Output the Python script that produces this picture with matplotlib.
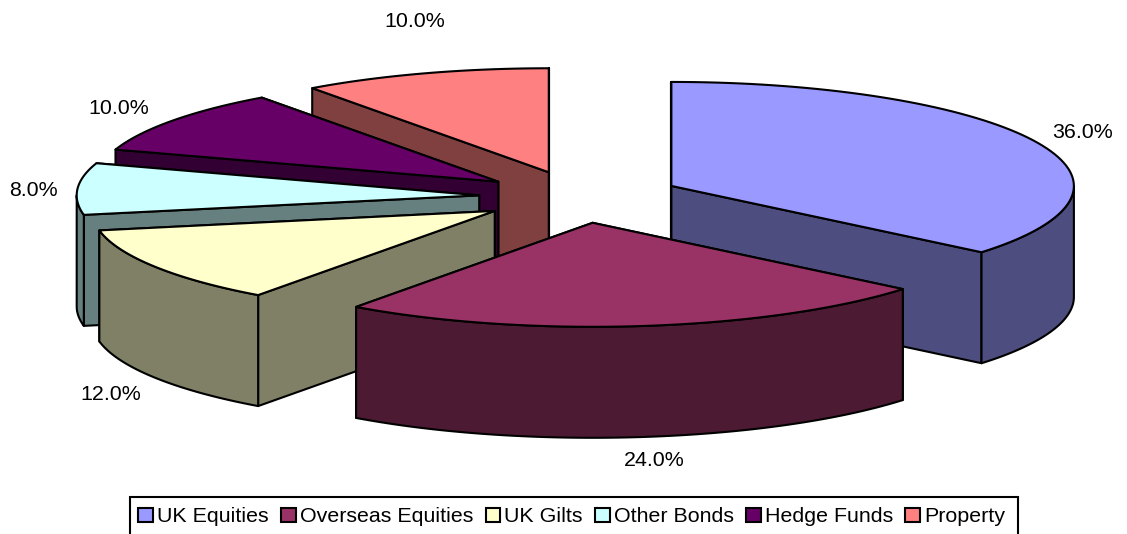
import numpy as np
import matplotlib
matplotlib.use("Agg")
import matplotlib.pyplot as plt
from matplotlib.patches import Polygon, Patch, Rectangle

plt.rcParams['font.family'] = ['Liberation Sans', 'DejaVu Sans']

categories = ["UK Equities", "Overseas Equities", "UK Gilts", "Other Bonds", "Hedge Funds", "Property"]
values = [36.0, 24.0, 12.0, 8.0, 10.0, 10.0]
top_colors = ["#9999FF", "#993366", "#FFFFCC", "#CCFFFF", "#660066", "#FF8080"]
side_colors = ["#4D4D80", "#4D1A33", "#808066", "#668080", "#330033", "#804040"]

# pie geometry in pixels, y goes down
cx, cy = 580, 197
rx, ry = 402.5, 104
depth = 111
explode_x, explode_y = 101, 26
lw = 1.5

# where each percent label sits relative to the rim of its slice
label_offsets = [(47, -9), (11, 135), (-44, 128), (-44, 2), (-54, -12), (-10, -52)]

fig = plt.figure(figsize=(11.27, 5.34), dpi=100)
ax = fig.add_axes([0, 0, 1, 1])
ax.set_xlim(0, 1127)
ax.set_ylim(534, 0)
ax.axis("off")


def rim(ox, oy, a0, a1, n=80):
    t = np.radians(np.linspace(a0, a1, n))
    return np.column_stack([ox + rx * np.sin(t), oy - ry * np.cos(t)])


def add_poly(pts, color, z):
    ax.add_patch(Polygon(pts, closed=True, facecolor=color, edgecolor="black",
                         linewidth=lw, joinstyle="round", zorder=z))


def cut_face(ox, oy, ang, color, z):
    p = rim(ox, oy, ang, ang, 1)[0]
    add_poly([(ox, oy), p, (p[0], p[1] + depth), (ox, oy + depth)], color, z)


# angles clockwise from 12 o'clock
ends = np.cumsum(values) / sum(values) * 360
starts = ends - np.array(values) / sum(values) * 360
mids = (starts + ends) / 2

# back to front
draw_order = [5, 4, 3, 2, 0, 1]
for rank, i in enumerate(draw_order):
    a0, a1, mid = starts[i], ends[i], np.radians(mids[i])
    ox = cx + explode_x * np.sin(mid)
    oy = cy - explode_y * np.cos(mid)
    z = 10 + rank * 10

    # cut faces, the ones turned away from the viewer first
    start_front = np.cos(np.radians(a0 - 90)) < -1e-9
    end_front = np.cos(np.radians(a1 + 90)) < -1e-9
    if not start_front:
        cut_face(ox, oy, a0, side_colors[i], z)
    if not end_front:
        cut_face(ox, oy, a1, side_colors[i], z)
    if start_front:
        cut_face(ox, oy, a0, side_colors[i], z + 1)
    if end_front:
        cut_face(ox, oy, a1, side_colors[i], z + 1)

    # outer wall, only the part facing front
    v0, v1 = max(a0, 90), min(a1, 270)
    if v1 > v0:
        upper = rim(ox, oy, v0, v1)
        lower = upper[::-1] + [0, depth]
        add_poly(np.vstack([upper, lower]), side_colors[i], z + 2)

    # top surface
    add_poly(np.vstack([[(ox, oy)], rim(ox, oy, a0, a1)]), top_colors[i], z + 3)

    anchor = rim(ox, oy, mids[i], mids[i], 1)[0]
    dx, dy = label_offsets[i]
    ax.annotate(f"{values[i]:.1f}%", xy=anchor, xytext=(dx, -dy), textcoords="offset pixels",
                ha="center", va="center", fontsize=15.4, color="black", zorder=100)

# legend box runs off the bottom of the picture
ax.add_patch(Rectangle((130, 497), 888, 60, facecolor="white", edgecolor="black",
                       linewidth=lw, zorder=190, clip_on=True))
handles = [Patch(facecolor=c, edgecolor="black", linewidth=lw) for c in top_colors]
leg = ax.legend(handles, categories, ncol=6, loc="upper left", bbox_to_anchor=(131, 500),
                bbox_transform=ax.transData, fontsize=15.4, frameon=False, borderaxespad=0,
                borderpad=0.35, handlelength=0.7, handleheight=0.7, handletextpad=0.17,
                columnspacing=0.58)
leg.set_zorder(200)

fig.savefig("out.png", dpi=100)
